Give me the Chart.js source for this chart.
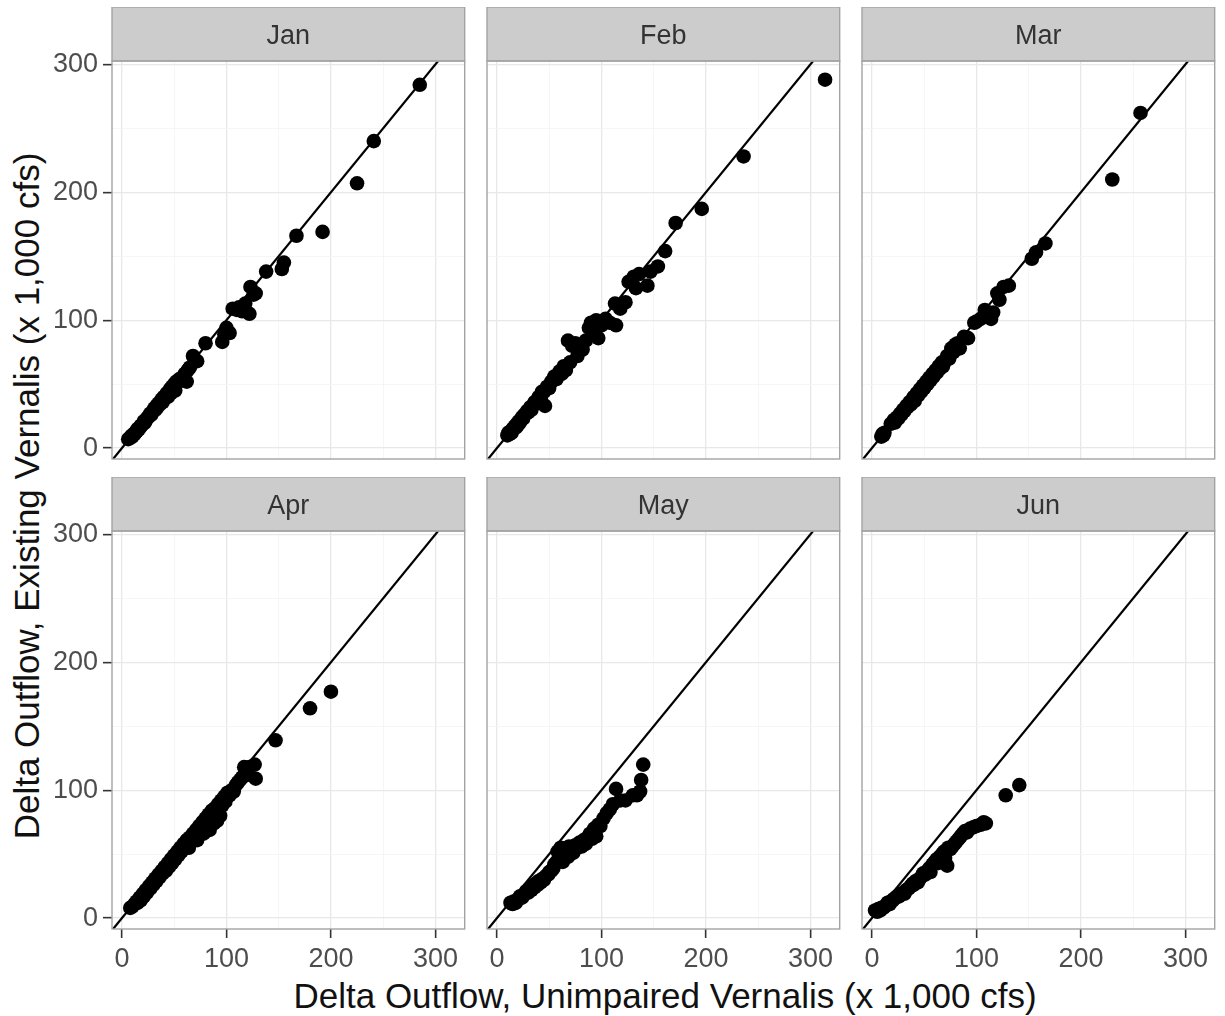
<!DOCTYPE html>
<html>
<head>
<meta charset="utf-8">
<script src="https://cdn.jsdelivr.net/npm/chart.js@4.4.1/dist/chart.umd.min.js"></script>
<style>
  body { margin: 0; background: #fff; }
  #wrap { position: relative; width: 1225px; height: 1016px; font-family: "Liberation Sans", Arial, sans-serif; }
  canvas { position: absolute; }
  .axis-title { position: absolute; color: #111; font-size: 35px; white-space: nowrap; }
  #xTitle { left: 665px; top: 996px; transform: translate(-50%, -50%); }
  #yTitle { left: 27px; top: 496px; transform: translate(-50%, -50%) rotate(-90deg); }
</style>
</head>
<body>
<div id="wrap">
  <div class="axis-title" id="yTitle">Delta Outflow, Existing Vernalis (x 1,000 cfs)</div>
  <div class="axis-title" id="xTitle">Delta Outflow, Unimpaired Vernalis (x 1,000 cfs)</div>
</div>
<script>
// monthly delta outflow, [unimpaired, existing] in 1,000 cfs
const months = ['Jan', 'Feb', 'Mar', 'Apr', 'May', 'Jun'];

const janPts = [[6,7],[8,8],[9,9.5],[10,9],[11,11],[12,11],[13,12.5],[14,13],[15,15],[16,14.5],[17,16],[18,17.5],
  [19,18],[20,19],[21,21],[22,20],[23,22],[24,23.5],[25,24],[26,25],[27,27],[28,26],[30,29],[31,31],[32,30],[33,33],
  [34,32],[35,35],[36,34],[37,36],[38,38],[39,36],[40,40],[41,39],[42,41],[43,43],[44,40],[45,44],[46,46],[47,43],
  [48,48],[49,47],[50,50],[51,45],[52,52],[53,51],[55,54],[57,53],[60,58],[62,52],[63,61],[65,63],[68,72],[70,69],
  [72,68],[80,82],[96,83],[98,89],[100,94],[103,90],[106,109],[110,108],[112,110],[115,107],[118,113],[122,105],
  [123,126],[126,120],[128,121],[138,138],[153,140],[155,145],[167,166],[192,169],[225,207],[241,240],[285,284]];

const febPts = [[10,10],[11,12],[12,11],[13,13],[14,12],[15,15],[16,15],[17,17],[18,16],[19,19],[20,18],[21,21],
  [22,20],[23,22],[24,24],[25,23],[26,26],[28,27],[29,29],[30,28],[32,32],[33,30],[35,34],[36,36],[38,35],[40,40],
  [42,38],[43,44],[45,44],[46,33],[48,48],[50,47],[52,52],[54,53],[55,56],[57,54],[60,60],[62,58],[64,64],[66,61],
  [68,84],[70,67],[72,80],[75,82],[77,72],[80,78],[82,77],[85,84],[88,94],[90,98],[92,91],[95,100],[97,86],[100,96],
  [104,101],[108,98],[113,113],[114,96],[118,109],[123,114],[126,130],[131,134],[133,125],[136,136],[144,127],
  [147,138],[154,142],[161,154],[171,176],[196,187],[236,228],[314,288]];

const marPts = [[9,9],[10,11],[11,10],[12,12],[18,19],[20,20],[21,22],[22,20],[24,24],[25,23],[27,27],[28,26],
  [30,30],[31,29],[33,33],[34,32],[36,36],[37,34],[39,38],[40,40],[41,37],[43,43],[44,41],[46,46],[47,44],[49,49],
  [50,47],[52,52],[53,50],[55,55],[56,53],[58,58],[59,56],[61,61],[62,59],[64,64],[65,62],[67,67],[68,64],[70,68],
  [72,72],[74,70],[76,78],[78,75],[80,81],[82,82],[84,78],[88,87],[92,86],[98,98],[100,99],[104,101],[108,108],
  [110,104],[114,101],[116,106],[120,121],[122,116],[126,126],[131,127],[153,148],[157,153],[166,160],[230,210],
  [257,262]];

const aprPts = [[8,8],[10,9],[12,11],[14,13],[15,12],[17,16],[18,14],[20,19],[21,17],[23,22],[24,20],[26,25],
  [27,23],[29,28],[30,26],[32,31],[33,29],[35,34],[36,32],[38,37],[39,35],[41,40],[42,37],[44,43],[45,40],[47,46],
  [48,43],[50,49],[51,46],[53,52],[54,49],[56,55],[57,52],[59,58],[60,55],[62,61],[63,57],[64,55],[65,63],[66,60],
  [68,66],[69,62],[71,69],[72,65],[72,61],[74,72],[75,68],[77,75],[78,71],[78,66],[80,78],[81,74],[82,70],[83,81],
  [84,77],[84,69],[86,84],[87,80],[88,74],[89,86],[90,82],[91,76],[92,89],[93,86],[94,80],[95,92],[96,88],[98,95],
  [99,91],[101,98],[103,96],[105,100],[107,99],[109,104],[111,106],[113,108],[115,110],[117,118],[120,112],
  [122,118],[127,120],[128,109],[147,139],[180,164],[200,177]];

const mayPts = [[13,12],[15,11],[16,13],[18,12],[19,14],[21,15],[22,17],[24,16],[25,18],[27,19],[28,21],[30,20],
  [31,23],[33,22],[34,25],[36,24],[37,27],[39,26],[40,29],[42,28],[44,31],[45,30],[47,33],[49,34],[50,36],[52,37],
  [54,39],[55,42],[57,44],[58,52],[60,46],[61,55],[63,44],[64,50],[66,53],[68,48],[69,56],[71,54],[73,51],[75,57],
  [77,55],[79,59],[81,56],[83,61],[85,58],[87,63],[89,66],[91,62],[93,70],[95,64],[97,73],[99,72],[102,78],
  [105,82],[108,85],[111,89],[114,101],[118,92],[123,92],[130,96],[134,96],[137,99],[138,108],[140,120]];

const junPts = [[3,6],[5,5],[6,7],[8,6],[9,8],[11,8],[12,9],[14,10],[15,12],[17,11],[18,13],[20,14],[21,15],
  [23,16],[24,17],[26,17],[28,19],[30,20],[31,19],[33,22],[35,23],[37,25],[39,27],[40,26],[42,29],[44,28],[46,31],
  [48,33],[49,35],[51,34],[53,37],[55,39],[56,36],[58,42],[60,44],[62,46],[63,43],[65,48],[67,50],[69,52],[70,47],
  [72,41],[73,55],[75,54],[77,56],[79,58],[81,60],[83,62],[85,64],[87,66],[89,68],[91,67],[94,70],[97,71],
  [100,72],[104,73],[107,75],[109,74],[128,96],[141,104]];

const monthPts = [janPts, febPts, marPts, aprPts, mayPts, junPts];

// shared scales across facets
const axisTicks = [0, 50, 100, 150, 200, 250, 300];
const xRange = [-9.5, 328];
const yRange = [-8.5, 302.6];
const oneToOne = [[-20, -20], [340, 340]];

// facet grid geometry
const colLeft = [112, 487, 862];
const rowTop = [7, 477];
const stripH = 54, panelW = 356, panelH = 398;
const axisW = 100, axisH = 80, padRight = 4;

const FONT = '"Liberation Sans", Arial, sans-serif';

const facetStrip = {
  id: 'facetStrip',
  afterDraw(chart, args, opts) {
    const { ctx, chartArea: a } = chart;
    ctx.save();
    ctx.fillStyle = '#cccccc';
    ctx.fillRect(a.left, a.top - stripH, a.width, stripH);
    ctx.strokeStyle = '#a3a3a3';
    ctx.lineWidth = 1.4;
    ctx.strokeRect(a.left, a.top - stripH, a.width, stripH);
    ctx.strokeRect(a.left, a.top, a.width, a.height);
    ctx.fillStyle = '#333333';
    ctx.font = '27px ' + FONT;
    ctx.textAlign = 'center';
    ctx.textBaseline = 'middle';
    ctx.fillText(opts.label, (a.left + a.right) / 2, a.top - stripH / 2 + 3);
    ctx.restore();
  }
};

function gridColor(c) {
  return c.tick && c.tick.value % 100 === 0 ? '#e8e8e8' : '#f4f4f4';
}
function gridWidth(c) {
  return c.tick && c.tick.value % 100 === 0 ? 1.3 : 0.8;
}
function tickColor(c) {
  return c.tick && c.tick.value % 100 === 0 ? '#333333' : 'rgba(0,0,0,0)';
}

function makeAxis(range, showTicks, size, horizontal) {
  return {
    type: 'linear',
    min: range[0],
    max: range[1],
    afterBuildTicks: s => { s.ticks = axisTicks.map(v => ({ value: v })); },
    afterFit: s => { if (horizontal) s.height = size; else s.width = size; },
    border: { display: false },
    grid: {
      color: gridColor,
      lineWidth: gridWidth,
      drawTicks: showTicks,
      tickLength: 9,
      tickColor: tickColor,
      tickWidth: 1.6
    },
    ticks: {
      display: showTicks,
      autoSkip: false,
      maxRotation: 0,
      padding: horizontal ? 5 : 5,
      color: '#4d4d4d',
      font: { family: FONT, size: 27 },
      callback: v => (v % 100 === 0 ? String(v) : '')
    }
  };
}

const wrap = document.getElementById('wrap');

months.forEach((m, i) => {
  const col = i % 3, row = Math.floor(i / 3);
  const canvas = document.createElement('canvas');
  canvas.width = axisW + panelW + padRight;
  canvas.height = stripH + panelH + axisH;
  canvas.style.left = (colLeft[col] - axisW) + 'px';
  canvas.style.top = rowTop[row] + 'px';
  wrap.appendChild(canvas);

  new Chart(canvas.getContext('2d'), {
    type: 'scatter',
    data: {
      datasets: [
        {
          type: 'line',
          data: oneToOne.map(p => ({ x: p[0], y: p[1] })),
          borderColor: '#000',
          borderWidth: 2.2,
          pointRadius: 0,
          clip: 0
        },
        {
          data: monthPts[i].map(p => ({ x: p[0], y: p[1] })),
          backgroundColor: '#000',
          borderWidth: 0,
          pointRadius: 7.3
        }
      ]
    },
    options: {
      responsive: false,
      animation: false,
      devicePixelRatio: 1,
      layout: { padding: { top: stripH, right: padRight, left: 0, bottom: 0 } },
      plugins: {
        legend: { display: false },
        tooltip: { enabled: false },
        facetStrip: { label: m }
      },
      scales: {
        x: makeAxis(xRange, row === 1, axisH, true),
        y: makeAxis(yRange, col === 0, axisW, false)
      }
    },
    plugins: [facetStrip]
  });
});
</script>
</body>
</html>
